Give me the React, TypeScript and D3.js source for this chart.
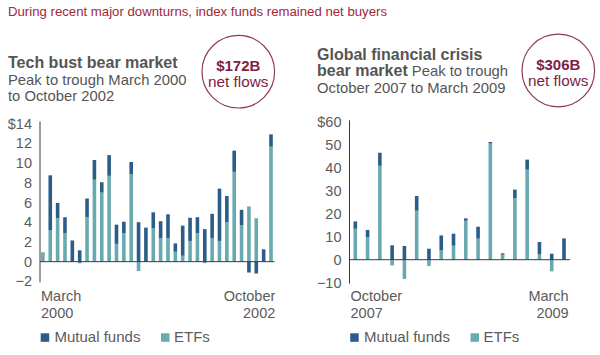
import React from "react";
import * as d3 from "d3";

// ---- Data ----
const leftMonths = [
  "2000-03","2000-04","2000-05","2000-06","2000-07","2000-08","2000-09","2000-10","2000-11","2000-12",
  "2001-01","2001-02","2001-03","2001-04","2001-05","2001-06","2001-07","2001-08","2001-09","2001-10","2001-11","2001-12",
  "2002-01","2002-02","2002-03","2002-04","2002-05","2002-06","2002-07","2002-08","2002-09","2002-10",
];
const leftETF = [0.95, 3.2, 4.4, 2.9, 0, -0.17, 4.5, 8.3, 7.0, 8.7, 1.8, 2.9, 8.85, -0.95, 0, 3.4, 2.4, 2.4, 1.0, 0.6, 2.1, 2.9, -0.15, 2.4, 2.1, 4.0, 9.1, 3.7, 5.6, 4.4, 0, 11.65];
const leftMF = [0, 5.55, 1.55, 1.6, 2.15, 1.15, 1.9, 2.0, 1.05, 2.1, 1.95, 1.15, 1.25, 4.0, 3.45, 1.6, 1.7, 2.4, 0.85, 3.05, 2.35, 1.6, 3.3, 2.45, 5.3, 2.65, 2.15, 1.55, -1.1, -1.2, 1.25, 1.25];
const leftTicks = [-2, 0, 2, 4, 6, 8, 10, 12, 14];

const rightMonths = [
  "2007-10","2007-11","2007-12",
  "2008-01","2008-02","2008-03","2008-04","2008-05","2008-06","2008-07","2008-08","2008-09","2008-10","2008-11","2008-12",
  "2009-01","2009-02","2009-03",
];
const rightETF = [13.5, 9.9, 41.0, -2.5, -8.4, 21.4, -2.8, 4.1, 6.1, 17.0, 9.2, 50.7, 2.2, 26.8, 39.3, 2.3, -5.1, 0];
const rightMF = [3.2, 3.1, 5.7, 6.3, 6.0, 6.4, 4.8, 6.5, 5.25, 1.05, 5.2, 0.7, 0.6, 3.8, 4.4, 5.4, 2.6, 9.3];
const rightTicks = [-10, 0, 10, 20, 30, 40, 50, 60];

const seriesKeys = ["etf", "mf"];
const legendLabels = ["Mutual funds", "ETFs"];

// ---- Styles ----
const DARK = "#2c5d89";
const LIGHT = "#69aab0";
const TEXT = "#5b5b5b";
const RED = "#a3263d";
const MAROON = "#7d2243";
const FONT = "'Liberation Sans', Arial, Helvetica, sans-serif";

type PanelProps = {
  months: string[];
  etf: number[];
  mf: number[];
  ticks: number[];
  axisX: number;
  x0: number;
  x1: number;
  zeroEnd: number;
  yTop: number;
  yBottom: number;
  labelStart: [string, string];
  labelEnd: [string, string];
  labelEndX: number;
};

function Panel(p: PanelProps) {
  const rows = p.months.map((m, i) => ({ month: m, etf: p.etf[i], mf: p.mf[i] }));
  const stacked = d3.stack<any>().keys(seriesKeys).offset(d3.stackOffsetDiverging)(rows);
  const x = d3.scalePoint<string>().domain(p.months).range([p.x0, p.x1]);
  const y = d3.scaleLinear().domain([p.ticks[0], p.ticks[p.ticks.length - 1]]).range([p.yBottom, p.yTop]);
  const bw = 3.6;
  const colors: Record<string, string> = { etf: LIGHT, mf: DARK };
  return (
    <g>
      {stacked.map((s) => (
        <g key={s.key} fill={colors[s.key]}>
          {s.map((d, i) => {
            const a = y(d[0]);
            const b = y(d[1]);
            const h = Math.abs(a - b);
            if (h < 0.01) return null;
            return <rect key={i} x={(x(rows[i].month) as number) - bw / 2} y={Math.min(a, b)} width={bw} height={h} />;
          })}
        </g>
      ))}
      <line x1={p.axisX} x2={p.zeroEnd} y1={y(0)} y2={y(0)} stroke="#3a3a3a" strokeWidth={1} />
      <line x1={p.axisX} x2={p.axisX} y1={y(p.ticks[p.ticks.length - 1]) - 2} y2={y(p.ticks[0]) + 1} stroke="#3a3a3a" strokeWidth={1} />
      {p.ticks.map((t, i) => (
        <text key={t} x={p.axisX - 8} y={y(t)} dy="0.35em" textAnchor="end" fontSize={14.5} fill={TEXT} fontFamily={FONT}>
          {(i === p.ticks.length - 1 ? "$" : "") + (t < 0 ? "\u2212" + Math.abs(t) : t)}
        </text>
      ))}
      <text x={p.axisX + 1} y={301} fontSize={14.5} fill={TEXT} fontFamily={FONT}>{p.labelStart[0]}</text>
      <text x={p.axisX + 1} y={318} fontSize={14.5} fill={TEXT} fontFamily={FONT}>{p.labelStart[1]}</text>
      <text x={p.labelEndX} y={301} textAnchor="end" fontSize={14.5} fill={TEXT} fontFamily={FONT}>{p.labelEnd[0]}</text>
      <text x={p.labelEndX} y={318} textAnchor="end" fontSize={14.5} fill={TEXT} fontFamily={FONT}>{p.labelEnd[1]}</text>
      <rect x={p.axisX + 0.7} y={333.3} width={8.5} height={8.5} fill={DARK} />
      <text x={p.axisX + 14.5} y={341.5} fontSize={15} fill={TEXT} fontFamily={FONT}>{legendLabels[0]}</text>
      <rect x={p.axisX + 121} y={333.3} width={8.5} height={8.5} fill={LIGHT} />
      <text x={p.axisX + 134} y={341.5} fontSize={15} fill={TEXT} fontFamily={FONT}>{legendLabels[1]}</text>
    </g>
  );
}

function Badge({ cx, cy, value }: { cx: number; cy: number; value: string }) {
  return (
    <g fontFamily={FONT} textAnchor="middle">
      <circle cx={cx} cy={cy} r={36.3} fill="none" stroke="#8e3a55" strokeWidth={1.2} />
      <text x={cx} y={cy - 1} fontSize={15} fontWeight="bold" fill={MAROON}>{value}</text>
      <text x={cx} y={cy + 15} fontSize={15.3} fill={MAROON}>net flows</text>
    </g>
  );
}

export default function App() {
  return (
    <svg width={600} height={355} style={{ position: "absolute", left: 0, top: 0, background: "#fff" }}>
      <text x={8} y={15.5} fontSize={13.2} fill={RED} fontFamily={FONT}>
        During recent major downturns, index funds remained net buyers
      </text>

      <g fontFamily={FONT} fill="#555">
        <text x={8} y={68.3} fontSize={16} fontWeight="bold">Tech bust bear market</text>
        <text x={8} y={84.5} fontSize={14.8}>Peak to trough March 2000</text>
        <text x={8} y={101} fontSize={14.8}>to October 2002</text>

        <text x={317} y={60} fontSize={16} fontWeight="bold">Global financial crisis</text>
        <text x={317} y={76} fontSize={14.8}>
          <tspan fontSize={16} fontWeight="bold">bear market</tspan> Peak to trough
        </text>
        <text x={317} y={92.5} fontSize={14.8}>October 2007 to March 2009</text>
      </g>

      <Badge cx={238.3} cy={71.7} value="$172B" />
      <Badge cx={558.3} cy={70.5} value="$306B" />

      <Panel
        months={leftMonths}
        etf={leftETF}
        mf={leftMF}
        ticks={leftTicks}
        axisX={40}
        x0={42.9}
        x1={271}
        zeroEnd={274.5}
        yTop={123.5}
        yBottom={281.4}
        labelStart={["March", "2000"]}
        labelEnd={["October", "2002"]}
        labelEndX={275.3}
      />
      <Panel
        months={rightMonths}
        etf={rightETF}
        mf={rightMF}
        ticks={rightTicks}
        axisX={349.5}
        x0={355.3}
        x1={564}
        zeroEnd={570}
        yTop={122.3}
        yBottom={282.6}
        labelStart={["October", "2007"]}
        labelEnd={["March", "2009"]}
        labelEndX={568.7}
      />
    </svg>
  );
}
